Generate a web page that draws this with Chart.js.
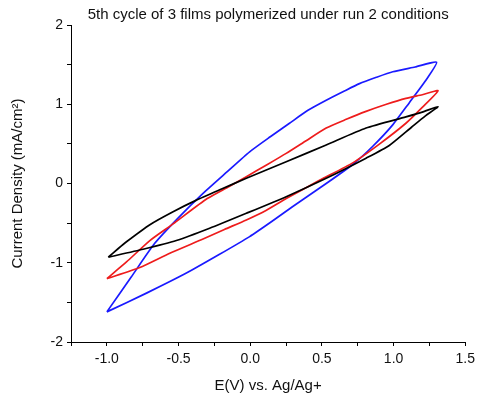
<!DOCTYPE html>
<html>
<head>
<meta charset="utf-8">
<script src="https://cdn.jsdelivr.net/npm/chart.js@4"></script>
<style>
  html, body { margin: 0; padding: 0; background: #fff; }
  #wrap { width: 480px; height: 403px; }
</style>
</head>
<body>
<div id="wrap"><canvas id="cv" width="480" height="403"></canvas></div>
<script>
// curvas: ramo superior (de -1 V ate 1.3 V) e depois ramo inferior de volta
const blueX = [-1.0, -0.83, -0.666, -0.5, -0.329, -0.16, -0.004, 0.14, 0.274, 0.40, 0.53, 0.65, 0.762, 0.88, 0.994, 1.15, 1.30,
               1.22, 1.11, 0.994, 0.855, 0.715, 0.53, 0.297, 0.15, -0.004, -0.22, -0.445, -0.72, -1.0];
const blueY = [-1.62, -1.18, -0.755, -0.43, -0.124, 0.15, 0.40, 0.59, 0.76, 0.92, 1.05, 1.16, 1.26, 1.34, 1.41, 1.47, 1.53,
               1.29, 1.02, 0.74, 0.47, 0.24, 0.0, -0.29, -0.48, -0.67, -0.90, -1.13, -1.38, -1.62];

const redX = [-1.0, -0.863, -0.70, -0.538, -0.30, -0.15, -0.027, 0.12, 0.251, 0.39, 0.53, 0.67, 0.808, 0.95, 1.086, 1.20, 1.31,
              1.20, 1.086, 0.903, 0.715, 0.483, 0.251, 0.11, -0.027, -0.18, -0.329, -0.561, -0.77, -1.0];
const redY = [-1.20, -0.99, -0.72, -0.51, -0.19, -0.04, 0.086, 0.24, 0.38, 0.54, 0.70, 0.81, 0.91, 1.00, 1.075, 1.12, 1.17,
              0.96, 0.76, 0.50, 0.26, 0.04, -0.19, -0.34, -0.46, -0.58, -0.70, -0.88, -1.06, -1.20];

const blackX = [-0.99, -0.92, -0.863, -0.70, -0.538, -0.375, -0.20, -0.027, 0.251, 0.53, 0.808, 1.086, 1.20, 1.31,
                1.22, 1.125, 0.97, 0.808, 0.53, 0.251, -0.027, -0.283, -0.515, -0.747, -0.99];
const blackY = [-0.93, -0.82, -0.735, -0.52, -0.356, -0.21, -0.07, 0.066, 0.275, 0.486, 0.70, 0.84, 0.90, 0.97,
                0.85, 0.71, 0.48, 0.32, 0.066, -0.166, -0.376, -0.565, -0.72, -0.83, -0.93];

const xTickLabels = ['-1.0', '-0.5', '0.0', '0.5', '1.0', '1.5'];
const yTickLabels = ['-2', '-1', '0', '1', '2'];

const fonte = 'Arial, "Liberation Sans", sans-serif';

function pares(xs, ys) {
  return xs.map((x, i) => ({ x: x, y: ys[i] }));
}

function serie(xs, ys, cor) {
  return {
    data: pares(xs, ys),
    showLine: true,
    borderColor: cor,
    backgroundColor: cor,
    borderWidth: 1.7,
    pointRadius: 0,
    tension: 0.2,
    fill: false
  };
}

new Chart(document.getElementById('cv').getContext('2d'), {
  type: 'scatter',
  data: {
    datasets: [
      serie(blackX, blackY, '#000000'),
      serie(redX, redY, '#ee1c1c'),
      serie(blueX, blueY, '#1a1aff')
    ]
  },
  options: {
    responsive: false,
    animation: false,
    layout: { padding: { left: 0, right: 14, top: 0, bottom: 0 } },
    plugins: {
      legend: { display: false },
      tooltip: { enabled: false },
      title: {
        display: true,
        fullSize: false,
        text: '5th cycle of 3 films polymerized under run 2 conditions',
        color: '#111',
        font: { family: fonte, size: 15, weight: 'normal' },
        padding: { top: 6, bottom: 1 }
      }
    },
    scales: {
      x: {
        type: 'linear',
        min: -1.25,
        max: 1.5,
        afterFit: (s) => { s.height = 61; },
        grid: { drawOnChartArea: false, drawTicks: true, tickLength: 4, color: '#000' },
        border: { display: true, color: '#000', width: 1 },
        ticks: {
          stepSize: 0.25,
          autoSkip: false,
          maxRotation: 0,
          color: '#111',
          padding: 5,
          font: { family: fonte, size: 14 },
          callback: (v) => {
            const t = v.toFixed(1);
            return (Math.abs(v * 2 - Math.round(v * 2)) < 1e-6 && xTickLabels.includes(t)) ? t : '';
          }
        },
        title: {
          display: true,
          text: 'E(V) vs. Ag/Ag+',
          color: '#111',
          font: { family: fonte, size: 15 },
          padding: { top: 0, bottom: 8 }
        }
      },
      y: {
        type: 'linear',
        min: -2,
        max: 2,
        afterFit: (s) => { s.width = 71; },
        grid: { drawOnChartArea: false, drawTicks: true, tickLength: 4, color: '#000' },
        border: { display: true, color: '#000', width: 1 },
        ticks: {
          stepSize: 0.5,
          autoSkip: false,
          color: '#111',
          padding: 4,
          font: { family: fonte, size: 14 },
          callback: (v) => {
            const t = String(Math.round(v));
            return (Number.isInteger(v) && yTickLabels.includes(t)) ? t : '';
          }
        },
        title: {
          display: true,
          text: 'Current Density (mA/cm²)',
          color: '#111',
          font: { family: fonte, size: 15 },
          padding: { top: 9, bottom: 0 }
        }
      }
    }
  }
});
</script>
</body>
</html>
